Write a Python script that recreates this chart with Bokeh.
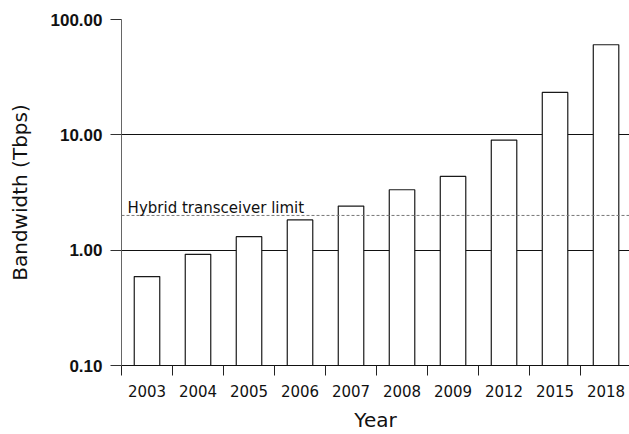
from bokeh.plotting import figure
from bokeh.models import Range1d, FixedTicker, NumeralTickFormatter, Span, Label, ColumnDataSource
from bokeh.embed import file_html
from bokeh.resources import INLINE

years = ["2003", "2004", "2005", "2006", "2007", "2008", "2009", "2012", "2015", "2018"]
bandwidth = [0.59, 0.92, 1.31, 1.83, 2.41, 3.34, 4.36, 9.0, 23.3, 60.4]
y_ticks = [0.1, 1, 10, 100]
hybrid_limit = 2.0
hybrid_label = "Hybrid transceiver limit"

positions = [i + 0.5 for i in range(len(years))]
boundaries = list(range(len(years) + 1))
src = ColumnDataSource(dict(x=positions, top=bandwidth, year=years))

p = figure(width=629, height=434, y_axis_type="log",
           x_range=Range1d(0, 9.96), y_range=Range1d(0.1, 100),
           output_backend="svg", toolbar_location=None,
           min_border_left=121, min_border_right=0, min_border_top=19, min_border_bottom=69)
p.outline_line_color = None
p.background_fill_color = "white"

p.vbar(x="x", width=0.5, bottom=0.1, top="top", source=src,
       fill_color="white", line_color="#1a1a1a", line_width=1.2)

p.add_layout(Span(location=hybrid_limit, dimension="width", line_dash="3 2",
                  line_color="#777777", line_width=1))
p.add_layout(Label(x=0.12, y=hybrid_limit, y_offset=7, text=hybrid_label,
                   text_baseline="alphabetic", text_font="DejaVu Sans",
                   text_font_size="15px", text_color="#111111"))

# x axis
p.xaxis.ticker = FixedTicker(ticks=positions, minor_ticks=boundaries)
p.xaxis.major_label_overrides = {pos: yr for pos, yr in zip(positions, years)}
p.xaxis.major_tick_out = 10
p.xaxis.major_tick_in = 0
p.xaxis.major_tick_line_color = None
p.xaxis.minor_tick_out = 10
p.xaxis.minor_tick_in = 0
p.xaxis.minor_tick_line_color = "#222222"
p.xaxis.minor_tick_line_width = 1
p.xaxis.axis_line_color = "#111111"
p.xaxis.major_label_standoff = 9
p.xaxis.major_label_text_font = "DejaVu Sans"
p.xaxis.major_label_text_font_size = "15px"
p.xaxis.major_label_text_color = "#111111"
p.xaxis.axis_label = "Year"
p.xaxis.axis_label_text_font = "DejaVu Sans"
p.xaxis.axis_label_text_font_size = "20px"
p.xaxis.axis_label_text_font_style = "normal"
p.xaxis.axis_label_text_color = "#111111"
p.xaxis.axis_label_standoff = 8
p.xgrid.visible = False

# y axis
yticker = FixedTicker(ticks=y_ticks, minor_ticks=[])
p.yaxis.ticker = yticker
p.yaxis.formatter = NumeralTickFormatter(format="0.00")
p.yaxis.major_tick_out = 11
p.yaxis.major_tick_in = 0
p.yaxis.major_tick_line_color = "#333333"
p.yaxis.minor_tick_line_color = None
p.yaxis.axis_line_color = "#666666"
p.yaxis.major_label_standoff = 8
p.yaxis.major_label_text_font = "Liberation Sans"
p.yaxis.major_label_text_font_style = "bold"
p.yaxis.major_label_text_font_size = "17px"
p.yaxis.major_label_text_color = "#111111"
p.yaxis.axis_label = "Bandwidth (Tbps)"
p.yaxis.axis_label_text_font = "DejaVu Sans"
p.yaxis.axis_label_text_font_size = "20px"
p.yaxis.axis_label_text_font_style = "normal"
p.yaxis.axis_label_text_color = "#111111"
p.yaxis.axis_label_standoff = 16

p.ygrid.ticker = yticker
p.ygrid.grid_line_color = "#111111"
p.ygrid.grid_line_width = 1

open("out.html", "w").write(file_html(p, INLINE))
